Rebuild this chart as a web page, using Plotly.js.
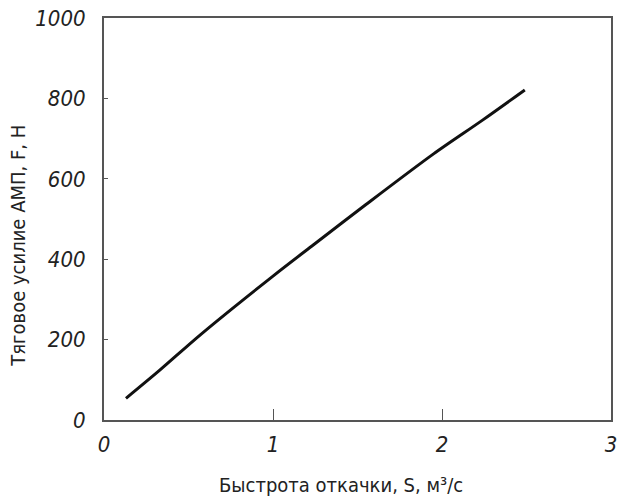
<!DOCTYPE html>
<html>
<head>
<meta charset="utf-8">
<script src="https://cdn.plot.ly/plotly-3.0.1.min.js"></script>
<style>
  html, body { margin: 0; padding: 0; background: #fff; }
  #chart { width: 620px; height: 502px; }
</style>
</head>
<body>
<div id="chart"></div>
<script>
    // Pumping speed S (m3/s) vs traction force F (N)
    const speed = [0.13, 0.33, 0.57, 1.0, 1.24, 1.55, 1.95, 2.24, 2.49];
    const force = [54, 124, 212, 358, 436, 536, 662, 746, 821];

    const xTicks = [0, 1, 2, 3];
    const yTicks = [0, 200, 400, 600, 800, 1000];

    const xTitle = 'Быстрота откачки, S, м³/с';
    const yTitle = 'Тяговое усилие АМП, F, Н';

    const fontName = '"DejaVu Sans Condensed", "Liberation Sans Narrow", "DejaVu Sans", sans-serif';

    function drawChart() {
        Plotly.newPlot('chart', [{
            x: speed,
            y: force,
            type: 'scatter',
            mode: 'lines',
            line: { color: '#111', width: 3, shape: 'spline', smoothing: 0.8 },
            hoverinfo: 'skip'
        }], {
            width: 620,
            height: 502,
            margin: { t: 18, b: 82, l: 104, r: 9 },
            paper_bgcolor: '#fff',
            plot_bgcolor: '#fff',
            showlegend: false,
            font: { family: fontName, color: '#222' },
            xaxis: {
                range: [0, 3],
                tickvals: xTicks,
                ticktext: xTicks.map(String),
                ticks: 'inside',
                ticklen: 11,
                tickwidth: 1,
                tickcolor: '#555',
                showgrid: false,
                zeroline: false,
                showline: true,
                mirror: true,
                linecolor: '#555',
                linewidth: 2,
                ticklabelstandoff: 4,
                tickfont: { family: fontName, size: 22, style: 'italic', color: '#222' }
            },
            yaxis: {
                range: [0, 1000],
                tickvals: yTicks,
                ticktext: yTicks.map(String),
                ticks: 'inside',
                ticklen: 4,
                tickwidth: 1,
                tickcolor: '#555',
                showgrid: false,
                zeroline: false,
                showline: true,
                mirror: true,
                linecolor: '#555',
                linewidth: 2,
                ticklabelstandoff: 12,
                tickfont: { family: fontName, size: 22, style: 'italic', color: '#222' }
            },
            annotations: [
                {
                    text: xTitle,
                    xref: 'paper', yref: 'paper',
                    x: 0.467, y: -0.162,
                    xanchor: 'center', yanchor: 'middle',
                    showarrow: false,
                    font: { family: fontName, size: 20, color: '#222' }
                },
                {
                    text: yTitle,
                    xref: 'paper', yref: 'paper',
                    x: -0.17, y: 0.433,
                    xanchor: 'center', yanchor: 'middle',
                    textangle: -90,
                    showarrow: false,
                    font: { family: fontName, size: 20, color: '#222' }
                }
            ]
        }, { staticPlot: true });
    }

    document.addEventListener('DOMContentLoaded', drawChart);
</script>
</body>
</html>
